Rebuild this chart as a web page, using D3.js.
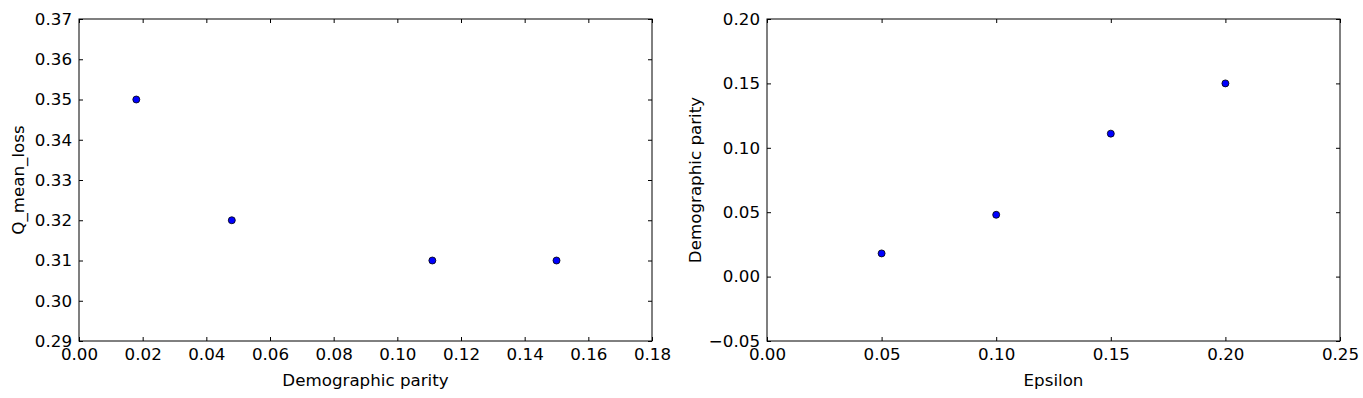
<!DOCTYPE html>
<html>
<head>
<meta charset="utf-8">
<script src="https://cdn.jsdelivr.net/npm/d3@7"></script>
<style>
  body { margin: 0; background: #fff; }
  svg text { font-family: "DejaVu Sans", sans-serif; font-size: 16.7px; fill: #000; }
</style>
</head>
<body>
<svg id="chart" width="1363" height="398"></svg>
<script>
// left panel: Q_mean_loss vs demographic parity
var parityValues = [0.018, 0.048, 0.111, 0.15];
var lossValues = [0.35, 0.32, 0.31, 0.31];
var leftXTicks = [0.00, 0.02, 0.04, 0.06, 0.08, 0.10, 0.12, 0.14, 0.16, 0.18];
var leftYTicks = [0.29, 0.30, 0.31, 0.32, 0.33, 0.34, 0.35, 0.36, 0.37];

// right panel: demographic parity vs epsilon
var epsilonValues = [0.05, 0.10, 0.15, 0.20];
var rightParityValues = [0.018, 0.048, 0.111, 0.15];
var rightXTicks = [0.00, 0.05, 0.10, 0.15, 0.20, 0.25];
var rightYTicks = [-0.05, 0.00, 0.05, 0.10, 0.15, 0.20];

var svg = d3.select('#chart');

function drawPanel(opts) {
    var left = opts.left, top = 19, width = 573, height = 322;

    var x = d3.scaleLinear()
        .domain([opts.xTicks[0], opts.xTicks[opts.xTicks.length - 1]])
        .range([0, width]);
    var y = d3.scaleLinear()
        .domain([opts.yTicks[0], opts.yTicks[opts.yTicks.length - 1]])
        .range([height, 0]);

    var g = svg.append('g')
        .attr('transform', 'translate(' + left + ',' + top + ')');

    var fmt = function(d) { return d3.format('.2f')(d).replace('-', '\u2212'); };

    // inward ticks on all four sides, like matplotlib classic
    var tickLen = 4;
    g.append('g').attr('transform', 'translate(0,' + height + ')')
        .call(d3.axisBottom(x).tickValues(opts.xTicks).tickFormat(fmt).tickSizeInner(-tickLen).tickSizeOuter(0).tickPadding(7));
    g.append('g')
        .call(d3.axisTop(x).tickValues(opts.xTicks).tickFormat('').tickSizeInner(-tickLen).tickSizeOuter(0));
    g.append('g')
        .call(d3.axisLeft(y).tickValues(opts.yTicks).tickFormat(fmt).tickSizeInner(-tickLen).tickSizeOuter(0).tickPadding(7));
    g.append('g').attr('transform', 'translate(' + width + ',0)')
        .call(d3.axisRight(y).tickValues(opts.yTicks).tickFormat('').tickSizeInner(-tickLen).tickSizeOuter(0));

    g.selectAll('.domain').remove();
    g.selectAll('.tick line').attr('stroke', '#000').attr('stroke-width', 1);
    g.selectAll('.tick text').attr('font-size', 16.7).attr('font-family', '"DejaVu Sans", sans-serif');

    g.append('rect')
        .attr('width', width)
        .attr('height', height)
        .attr('fill', 'none')
        .attr('stroke', '#000')
        .attr('stroke-width', 1);

    g.selectAll('circle.pt')
        .data(opts.xs)
        .enter().append('circle')
        .attr('class', 'pt')
        .attr('cx', function(d) { return x(d); })
        .attr('cy', function(d, i) { return y(opts.ys[i]); })
        .attr('r', 3.5)
        .attr('fill', '#0000ff')
        .attr('stroke', '#000')
        .attr('stroke-width', 0.8);

    g.append('text')
        .attr('x', width / 2)
        .attr('y', height + 45)
        .attr('text-anchor', 'middle')
        .text(opts.xLabel);

    g.append('text')
        .attr('transform', 'translate(' + opts.yLabelX + ',' + (height / 2) + ') rotate(-90)')
        .attr('text-anchor', 'middle')
        .text(opts.yLabel);
}

drawPanel({
    left: 79, xs: parityValues, ys: lossValues,
    xTicks: leftXTicks, yTicks: leftYTicks,
    xLabel: 'Demographic parity', yLabel: 'Q_mean_loss', yLabelX: -55
});

drawPanel({
    left: 767, xs: epsilonValues, ys: rightParityValues,
    xTicks: rightXTicks, yTicks: rightYTicks,
    xLabel: 'Epsilon', yLabel: 'Demographic parity', yLabelX: -66
});
</script>
</body>
</html>
